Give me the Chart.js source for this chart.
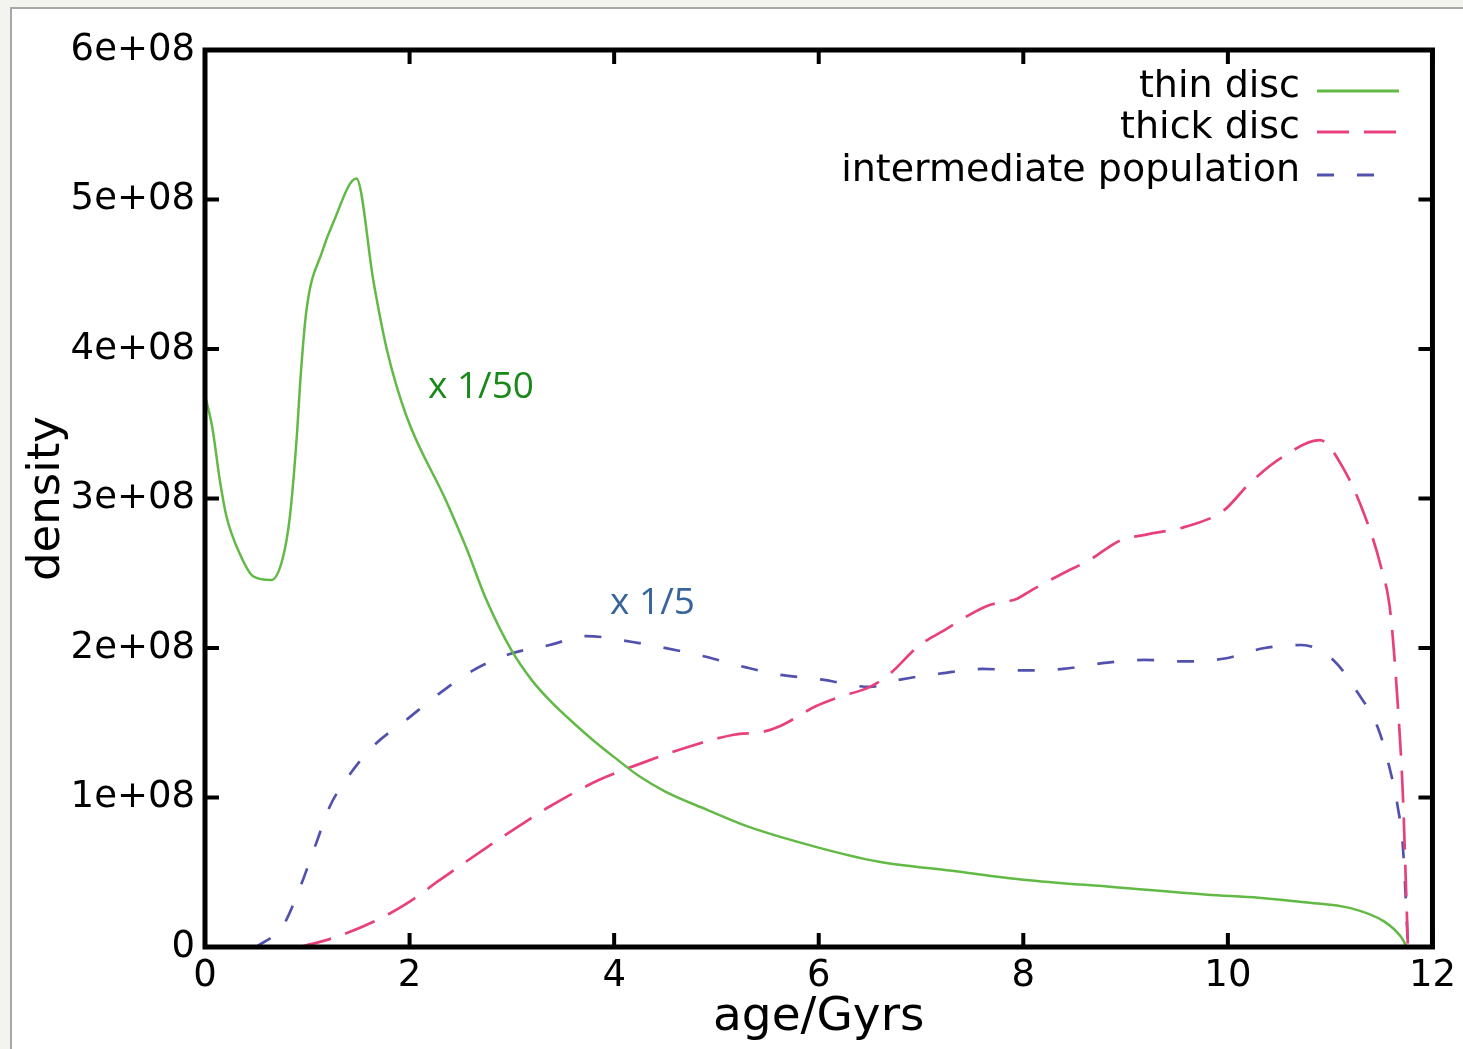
<!DOCTYPE html>
<html>
<head>
<meta charset="utf-8">
<script src="https://cdn.jsdelivr.net/npm/chart.js@4.4.1/dist/chart.umd.min.js"></script>
<style>
  html, body { margin: 0; padding: 0; background: #f3f3f0; }
  #sheet {
    position: absolute; left: 10px; top: 7px; width: 1453px; height: 1042px;
    background: #ffffff; border-left: 2px solid #a8a8a8; border-top: 2px solid #a8a8a8;
  }
  #wrap { position: absolute; left: 0; top: 0; width: 1463px; height: 1049px; }
</style>
</head>
<body>
<div id="sheet"></div>
<div id="wrap"><canvas id="densityChart" width="1463" height="1049"></canvas></div>
<script>
// thin disc (scaled x 1/50)
const thinAge = [0, 0.07, 0.15, 0.21, 0.34, 0.47, 0.65, 0.76, 0.83, 0.90, 0.93, 0.99, 1.15, 1.25, 1.48, 1.65, 1.78, 1.97, 2.36, 2.56, 2.74, 3.0, 3.2, 3.37, 3.6, 3.8, 4.0, 4.25, 4.5, 4.9, 5.29, 5.97, 6.59, 7.3, 8.0, 8.9, 9.8, 10.3, 10.75, 11.2, 11.53, 11.69, 11.75];
const thinDensity = [3.69e8, 3.48e8, 3.10e8, 2.88e8, 2.63e8, 2.48e8, 2.455e8, 2.60e8, 2.88e8, 3.44e8, 3.77e8, 4.25e8, 4.66e8, 4.84e8, 5.14e8, 4.44e8, 3.99e8, 3.55e8, 2.98e8, 2.66e8, 2.34e8, 1.98e8, 1.78e8, 1.65e8, 1.50e8, 1.38e8, 1.27e8, 1.14e8, 1.04e8, 0.92e8, 0.81e8, 0.67e8, 0.57e8, 0.51e8, 0.45e8, 0.40e8, 0.35e8, 0.33e8, 0.30e8, 0.26e8, 0.17e8, 0.07e8, 0];

// thick disc
const thickAge = [0.93, 1.25, 1.68, 1.97, 2.30, 2.72, 3.05, 3.37, 3.86, 4.27, 4.73, 5.17, 5.46, 5.63, 5.97, 6.19, 6.50, 6.70, 6.97, 7.23, 7.64, 7.94, 8.09, 8.39, 8.65, 8.95, 9.21, 9.58, 9.96, 10.21, 10.54, 10.9, 11.13, 11.33, 11.49, 11.59, 11.66, 11.71, 11.74, 11.76];
const thickDensity = [0, 0.06e8, 0.18e8, 0.29e8, 0.45e8, 0.65e8, 0.80e8, 0.94e8, 1.12e8, 1.23e8, 1.34e8, 1.42e8, 1.44e8, 1.48e8, 1.61e8, 1.67e8, 1.74e8, 1.83e8, 2.01e8, 2.12e8, 2.28e8, 2.33e8, 2.39e8, 2.50e8, 2.59e8, 2.72e8, 2.76e8, 2.81e8, 2.92e8, 3.10e8, 3.28e8, 3.39e8, 3.20e8, 2.90e8, 2.56e8, 2.23e8, 1.63e8, 1.03e8, 0.43e8, 0];

// intermediate population (scaled x 1/5)
const interAge = [0.5, 0.76, 0.93, 1.09, 1.22, 1.38, 1.64, 1.97, 2.30, 2.62, 2.98, 3.37, 3.73, 4.18, 4.84, 5.29, 5.63, 6.02, 6.50, 6.81, 7.20, 7.60, 8.0, 8.39, 8.79, 9.18, 9.58, 9.97, 10.36, 10.72, 11.03, 11.27, 11.47, 11.58, 11.66, 11.71, 11.74, 11.76];
const interDensity = [0, 0.14e8, 0.40e8, 0.70e8, 0.94e8, 1.12e8, 1.34e8, 1.52e8, 1.70e8, 1.85e8, 1.96e8, 2.02e8, 2.08e8, 2.04e8, 1.95e8, 1.87e8, 1.82e8, 1.79e8, 1.74e8, 1.79e8, 1.83e8, 1.86e8, 1.85e8, 1.86e8, 1.90e8, 1.92e8, 1.91e8, 1.93e8, 2.00e8, 2.02e8, 1.92e8, 1.70e8, 1.46e8, 1.20e8, 0.94e8, 0.68e8, 0.31e8, 0];

const seriesNames = ["thin disc", "thick disc", "intermediate population"];
const xTicks = [0, 2, 4, 6, 8, 10, 12];
const yTickLabels = ["0", "1e+08", "2e+08", "3e+08", "4e+08", "5e+08", "6e+08"];
const notes = [
    { text: "x 1/50", age: 2.18, density: 3.67e8, color: "#198a19" },
    { text: "x 1/5", age: 3.96, density: 2.23e8, color: "#37649a" }
];

function points(xs, ys) {
    return xs.map((x, i) => ({ x: x, y: ys[i] }));
}

const FONT = "'DejaVu Sans', 'Liberation Sans', sans-serif";

// frame, inward ticks, legend and the two hand-written notes
const framePlugin = {
    id: "frame",
    afterDatasetsDraw(chart) {
        const { ctx, chartArea: a, scales } = chart;
        ctx.save();
        ctx.strokeStyle = "#000";
        ctx.lineWidth = 4;
        ctx.beginPath();
        xTicks.forEach(v => {
            const px = scales.x.getPixelForValue(v);
            ctx.moveTo(px, a.bottom); ctx.lineTo(px, a.bottom - 14);
            ctx.moveTo(px, a.top); ctx.lineTo(px, a.top + 14);
        });
        yTickLabels.forEach((_, i) => {
            const py = scales.y.getPixelForValue(i * 1e8);
            ctx.moveTo(a.left, py); ctx.lineTo(a.left + 14, py);
            ctx.moveTo(a.right, py); ctx.lineTo(a.right - 14, py);
        });
        ctx.stroke();
        ctx.lineWidth = 5;
        ctx.strokeRect(a.left, a.top, a.right - a.left, a.bottom - a.top);
        ctx.restore();
    },
    afterDraw(chart) {
        const { ctx, scales } = chart;
        ctx.save();
        // legend
        const rows = [91, 132, 175];
        const sampleEnd = [1399, 1399, 1375];
        chart.data.datasets.forEach((ds, i) => {
            ctx.font = "38px " + FONT;
            ctx.fillStyle = "#000";
            ctx.textAlign = "right";
            ctx.textBaseline = "middle";
            ctx.fillText(ds.label, 1300, rows[i] - 4);
            ctx.strokeStyle = ds.borderColor;
            ctx.lineWidth = 3;
            ctx.setLineDash(ds.borderDash || []);
            ctx.beginPath();
            ctx.moveTo(1317, rows[i]);
            ctx.lineTo(sampleEnd[i], rows[i]);
            ctx.stroke();
        });
        ctx.setLineDash([]);
        // notes
        ctx.font = "37px 'Open Sans', 'Noto Sans', sans-serif";
        ctx.textAlign = "left";
        ctx.textBaseline = "alphabetic";
        notes.forEach(n => {
            ctx.fillStyle = n.color;
            ctx.fillText(n.text, scales.x.getPixelForValue(n.age), scales.y.getPixelForValue(n.density));
        });
        ctx.restore();
    }
};

const ctx = document.getElementById("densityChart").getContext("2d");

new Chart(ctx, {
    type: "line",
    data: {
        datasets: [
            {
                label: seriesNames[0],
                data: points(thinAge, thinDensity),
                borderColor: "#62b946",
                borderWidth: 2.5,
                pointRadius: 0,
                cubicInterpolationMode: "monotone"
            },
            {
                label: seriesNames[1],
                data: points(thickAge, thickDensity),
                borderColor: "#e8407c",
                borderWidth: 2.7,
                borderDash: [32, 15],
                pointRadius: 0,
                cubicInterpolationMode: "monotone"
            },
            {
                label: seriesNames[2],
                data: points(interAge, interDensity),
                borderColor: "#5252ae",
                borderWidth: 2.7,
                borderDash: [17, 23],
                pointRadius: 0,
                cubicInterpolationMode: "monotone"
            }
        ]
    },
    options: {
        responsive: false,
        animation: false,
        layout: { padding: { left: 0, right: 30, top: 50, bottom: 0 } },
        plugins: {
            legend: { display: false },
            tooltip: { enabled: false }
        },
        scales: {
            x: {
                type: "linear",
                min: 0,
                max: 12,
                afterBuildTicks: s => { s.ticks = xTicks.map(v => ({ value: v })); },
                ticks: { color: "#000", font: { family: FONT, size: 37 }, padding: 7, maxRotation: 0 },
                grid: { display: false, drawTicks: false },
                border: { display: false },
                title: {
                    display: true,
                    text: "age/Gyrs",
                    color: "#000",
                    font: { family: FONT, size: 47 },
                    padding: { top: 0, bottom: 3 }
                },
                afterFit: s => { s.height = 102; }
            },
            y: {
                min: 0,
                max: 6e8,
                ticks: {
                    stepSize: 1e8,
                    color: "#000",
                    font: { family: FONT, size: 37 },
                    padding: 10,
                    callback: (v, i) => yTickLabels[i]
                },
                grid: { display: false, drawTicks: false },
                border: { display: false },
                title: {
                    display: true,
                    text: "density",
                    color: "#000",
                    font: { family: FONT, size: 45 },
                    padding: { top: 20, bottom: 0 }
                },
                afterFit: s => { s.width = 205; }
            }
        }
    },
    plugins: [framePlugin]
});
</script>
</body>
</html>
